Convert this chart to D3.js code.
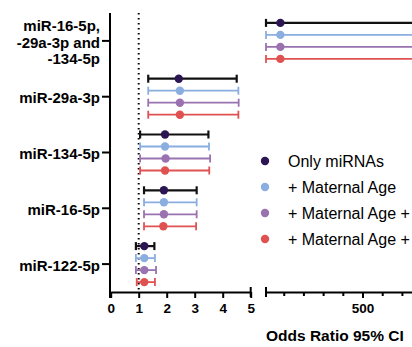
<!DOCTYPE html>
<html>
<head>
<meta charset="utf-8">
<script src="https://cdn.jsdelivr.net/npm/d3@7"></script>
<style>
  body { margin: 0; background: #fff; }
  svg { display: block; font-family: "Liberation Sans", Arial, sans-serif; }
</style>
</head>
<body>
<svg id="chart" width="412" height="347"></svg>
<script>
// data
var categories = ["miR-16-5p,\n-29a-3p and\n-134-5p", "miR-29a-3p", "miR-134-5p", "miR-16-5p", "miR-122-5p"];
var seriesNames = ["Only miRNAs", "+ Maternal Age", "+ Maternal Age +", "+ Maternal Age +"];

var orOnly = [83, 2.43, 1.94, 1.90, 1.20];
var loOnly = [10, 1.34, 1.05, 1.19, 0.90];
var hiOnly = [3000, 4.50, 3.49, 3.07, 1.56];

var orAge = [83, 2.47, 1.94, 1.90, 1.20];
var loAge = [10, 1.34, 1.05, 1.19, 0.90];
var hiAge = [3000, 4.56, 3.51, 3.07, 1.58];

var orAge2 = [83, 2.47, 1.96, 1.90, 1.20];
var loAge2 = [10, 1.34, 1.05, 1.19, 0.90];
var hiAge2 = [3000, 4.57, 3.55, 3.07, 1.62];

var orAge3 = [83, 2.47, 1.94, 1.88, 1.20];
var loAge3 = [10, 1.34, 1.05, 1.19, 0.93];
var hiAge3 = [3000, 4.56, 3.52, 3.05, 1.58];

var leftTicks = [0, 1, 2, 3, 4, 5];
var rightMinorTicks = [100, 200, 300, 400, 600, 700, 800, 900];
var rightMajorTicks = [500];

var dotColors = ["#2b1552", "#8aaee0", "#9a72b0", "#e05252"];
var barColors = ["#111111", "#8aaee0", "#9a72b0", "#e05252"];

var series = [
  { or: orOnly, lo: loOnly, hi: hiOnly },
  { or: orAge, lo: loAge, hi: hiAge },
  { or: orAge2, lo: loAge2, hi: hiAge2 },
  { or: orAge3, lo: loAge3, hi: hiAge3 }
];

var svg = d3.select("#chart");

var plotTop = 13, plotBottom = 292;
var xL = d3.scaleLinear().domain([0, 5]).range([110.7, 250.7]);
var xR = d3.scaleLinear().domain([10, 1000]).range([266, 461]);
var y = d3.scaleBand().domain(categories).range([plotTop, plotBottom]).padding(0);
var offsets = [-18, -6, 6, 18];

// reference line at OR = 1
svg.append("line")
  .attr("x1", xL(1)).attr("x2", xL(1))
  .attr("y1", plotTop).attr("y2", plotBottom)
  .attr("stroke", "#000")
  .attr("stroke-width", 2)
  .attr("stroke-dasharray", "1.5,3.5");

// draw one CI bar on one axis segment
function drawSegment(g, scale, lo, hi, yy, color, width) {
  var d = scale.domain();
  var a = Math.max(lo, d[0]), b = Math.min(hi, d[1]);
  if (a >= b) return;
  g.append("line")
    .attr("x1", scale(a)).attr("x2", scale(b))
    .attr("y1", yy).attr("y2", yy)
    .attr("stroke", color).attr("stroke-width", width);
  [lo, hi].forEach(function(v) {
    if (v >= d[0] && v <= d[1]) {
      g.append("line")
        .attr("x1", scale(v)).attr("x2", scale(v))
        .attr("y1", yy - 4).attr("y2", yy + 4)
        .attr("stroke", color).attr("stroke-width", width);
    }
  });
}

var marks = svg.append("g");
series.forEach(function(s, si) {
  categories.forEach(function(c, ci) {
    var yy = y(c) + y.bandwidth() / 2 + offsets[si];
    var w = si == 0 ? 2.2 : 1.8;
    drawSegment(marks, xL, s.lo[ci], s.hi[ci], yy, barColors[si], w);
    drawSegment(marks, xR, s.lo[ci], s.hi[ci], yy, barColors[si], w);
  });
});
series.forEach(function(s, si) {
  categories.forEach(function(c, ci) {
    var yy = y(c) + y.bandwidth() / 2 + offsets[si];
    var v = s.or[ci];
    var sc = v <= 5 ? xL : xR;
    marks.append("circle")
      .attr("cx", sc(v)).attr("cy", yy).attr("r", 4.2)
      .attr("fill", dotColors[si]);
  });
});

// y axis
var yAxis = svg.append("g")
  .attr("transform", "translate(110,0)")
  .call(d3.axisLeft(y).tickSize(8).tickSizeOuter(0).tickPadding(3));
yAxis.select(".domain").remove();
yAxis.append("line")
  .attr("x1", 0).attr("x2", 0).attr("y1", plotTop).attr("y2", plotBottom + 6)
  .attr("stroke", "#000").attr("stroke-width", 2);
yAxis.selectAll(".tick line").attr("stroke-width", 2);
yAxis.selectAll(".tick text")
  .attr("font-size", "15px")
  .attr("font-weight", "bold")
  .attr("fill", "#000")
  .attr("dy", null)
  .each(function(d) {
    var el = d3.select(this);
    var lines = d.split("\n");
    el.text("");
    lines.forEach(function(t, i) {
      el.append("tspan")
        .attr("x", -10)
        .attr("dy", i == 0 ? (0.35 - (lines.length - 1) * 0.55 + 0.1) + "em" : "1.1em")
        .text(t);
    });
  });

// x axis, left segment
var axL = svg.append("g")
  .attr("transform", "translate(0," + plotBottom + ")")
  .call(d3.axisBottom(xL).tickValues(leftTicks).tickFormat(d3.format("d"))
    .tickSize(6).tickSizeOuter(0).tickPadding(5));
axL.select(".domain").attr("stroke-width", 2);
axL.selectAll(".tick line").attr("stroke-width", 2);
axL.append("line")
  .attr("x1", xL(5)).attr("x2", xL(5)).attr("y1", -5).attr("y2", 5)
  .attr("stroke", "#000").attr("stroke-width", 2);

// x axis, right segment
var axR = svg.append("g")
  .attr("transform", "translate(0," + plotBottom + ")")
  .call(d3.axisBottom(xR).tickValues(rightMinorTicks).tickSize(4).tickSizeOuter(0).tickFormat(""));
axR.select(".domain").attr("stroke-width", 2);
axR.selectAll(".tick line").attr("stroke-width", 2);
var axR2 = svg.append("g")
  .attr("transform", "translate(0," + plotBottom + ")")
  .call(d3.axisBottom(xR).tickValues(rightMajorTicks).tickFormat(d3.format("d"))
    .tickSize(6).tickSizeOuter(0).tickPadding(5));
axR2.select(".domain").remove();
axR2.selectAll(".tick line").attr("stroke-width", 2);
axR.append("line")
  .attr("x1", xR(10)).attr("x2", xR(10)).attr("y1", -5).attr("y2", 5)
  .attr("stroke", "#000").attr("stroke-width", 2);

[axL, axR2].forEach(function(ax) {
  ax.selectAll(".tick text")
    .attr("font-size", "13.5px").attr("font-weight", "bold").attr("fill", "#000");
});

svg.append("text")
  .attr("x", 266).attr("y", 341)
  .attr("font-size", "15.5px").attr("font-weight", "bold")
  .text("Odds Ratio 95% CI");

// legend
var legend = svg.append("g");
seriesNames.forEach(function(n, i) {
  var ly = 161 + i * 26;
  legend.append("circle").attr("cx", 265).attr("cy", ly).attr("r", 4.2).attr("fill", dotColors[i]);
  legend.append("text")
    .attr("x", 288).attr("y", ly + 5.8)
    .attr("font-size", "16px")
    .attr("fill", "#000")
    .text(n);
});
</script>
</body>
</html>
